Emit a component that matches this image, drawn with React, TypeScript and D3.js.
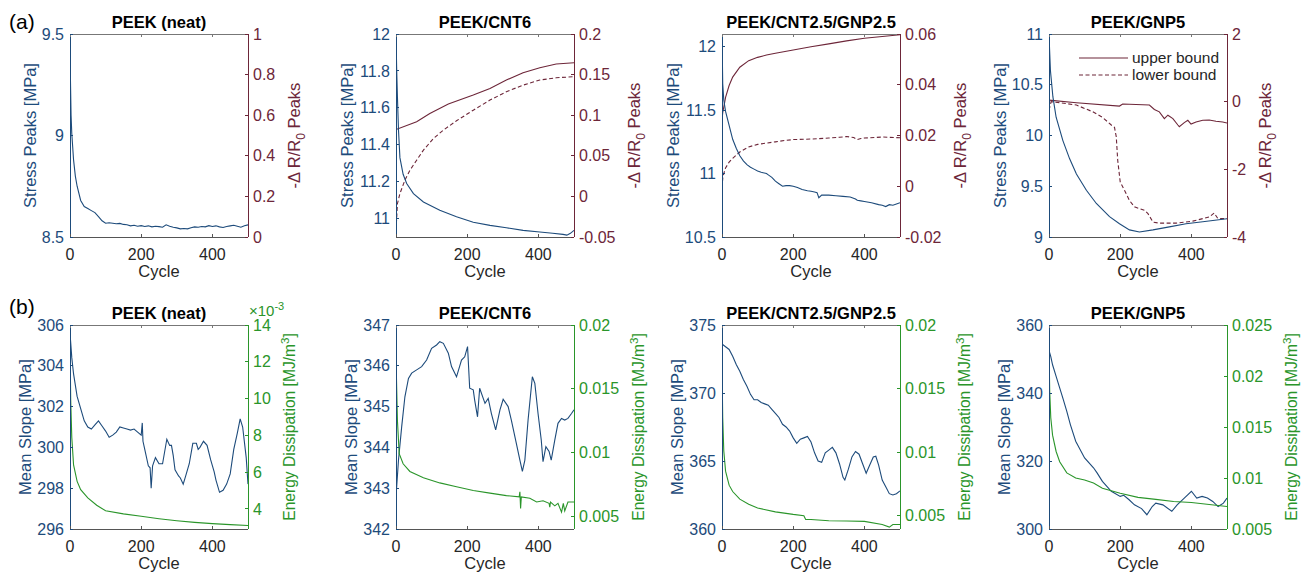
import React from "react";
import * as d3 from "d3";

const FONT = "'Liberation Sans', Arial, Helvetica, sans-serif";
const BLUE = "#1d4b7b";
const MAROON = "#6d2639";
const GREEN = "#2a952a";
const GREY = "#262626";

const cycleTicks = [0, 200, 400];

// ---- row (a): stress peaks + resistance change ----
const neatStress = [[0,9.47],[1,9.3],[3,9.1],[5,9.01],[10,8.88],[15,8.8],[20,8.75],[30,8.68],[40,8.65],[50,8.64],[60,8.63],[70,8.62],[80,8.6],[90,8.58],[100,8.568],[110,8.57],[120,8.568],[130,8.565],[140,8.567],[150,8.562],[160,8.56],[170,8.555],[180,8.558],[190,8.553],[200,8.556],[210,8.552],[220,8.555],[230,8.55],[240,8.553],[250,8.551],[260,8.548],[270,8.56],[280,8.553],[290,8.548],[300,8.545],[310,8.54],[320,8.542],[330,8.54],[340,8.546],[350,8.55],[360,8.548],[370,8.552],[380,8.55],[390,8.556],[400,8.552],[410,8.555],[420,8.55],[430,8.547],[440,8.552],[450,8.555],[460,8.558],[470,8.553],[480,8.548],[490,8.555],[500,8.56]];

const cnt6Stress = [[0,11.99],[2,11.8],[4,11.66],[7,11.48],[11,11.33],[20,11.24],[30,11.19],[49,11.135],[77,11.09],[123,11.045],[170,11.01],[217,10.98],[264,10.963],[310,10.95],[357,10.936],[404,10.927],[440,10.92],[469,10.914],[480,10.91],[490,10.92],[500,10.936]];
const cnt6Upper = [[0,0.0824],[58,0.0919],[95,0.102],[147,0.1137],[217,0.1248],[264,0.133],[310,0.1433],[357,0.1523],[404,0.1585],[450,0.163],[500,0.1646]];
const cnt6Lower = [[0,-0.042],[4,-0.009],[11,0.0035],[25,0.02],[39,0.0322],[58,0.0446],[77,0.057],[105,0.0713],[133,0.0816],[170,0.0931],[217,0.1062],[264,0.1186],[310,0.1289],[357,0.137],[404,0.1433],[450,0.1461],[500,0.1474]];

const hybStress = [[0,12.1],[1,11.9],[2,11.71],[5,11.58],[10,11.49],[20,11.38],[30,11.27],[40,11.2],[50,11.14],[60,11.1],[70,11.07],[80,11.05],[90,11.035],[100,11.02],[110,11.01],[125,11.0],[130,10.99],[140,10.97],[150,10.94],[160,10.92],[170,10.9],[180,10.905],[190,10.905],[200,10.9],[212,10.89],[225,10.875],[240,10.865],[250,10.86],[260,10.855],[267,10.85],[272,10.81],[280,10.83],[290,10.83],[300,10.83],[320,10.825],[340,10.82],[360,10.815],[375,10.8],[380,10.79],[390,10.785],[400,10.78],[420,10.77],[440,10.755],[450,10.75],[460,10.74],[470,10.755],[480,10.75],[490,10.76],[500,10.77]];
const hybUpper = [[0,0.026],[2,0.029],[5,0.0312],[10,0.035],[20,0.0397],[30,0.043],[50,0.0469],[75,0.0495],[100,0.0508],[125,0.0517],[150,0.0524],[200,0.0537],[250,0.055],[300,0.0561],[350,0.0573],[400,0.0583],[450,0.059],[500,0.0597]];
const hybLower = [[0,-0.0007],[2,0.003],[5,0.005],[10,0.0072],[20,0.0095],[30,0.011],[50,0.0135],[75,0.0155],[100,0.0165],[125,0.017],[150,0.0175],[175,0.018],[200,0.0184],[250,0.0186],[300,0.019],[330,0.0193],[350,0.0196],[370,0.0192],[380,0.0184],[390,0.0188],[400,0.019],[450,0.0194],[500,0.0191]];

const gnpStress = [[0,10.99],[4,10.64],[11,10.38],[20,10.18],[39,9.95],[58,9.77],[77,9.62],[105,9.46],[133,9.33],[170,9.2],[198,9.13],[226,9.07],[254,9.05],[292,9.07],[338,9.1],[385,9.13],[432,9.15],[500,9.18]];
const gnpUpper = [[0,0.045],[77,-0.03],[198,-0.13],[207,-0.07],[282,-0.1],[296,-0.23],[310,-0.3],[324,-0.5],[334,-0.4],[348,-0.5],[362,-0.69],[366,-0.74],[380,-0.62],[390,-0.55],[399,-0.66],[413,-0.6],[432,-0.55],[450,-0.54],[469,-0.58],[488,-0.6],[500,-0.63]];
const gnpLower = [[0,-0.25],[6,0.0],[30,-0.03],[77,-0.1],[123,-0.3],[151,-0.47],[175,-0.69],[184,-0.76],[189,-1.04],[193,-1.73],[200,-2.37],[212,-2.62],[226,-2.92],[240,-3.11],[254,-3.16],[268,-3.21],[278,-3.31],[292,-3.56],[310,-3.59],[357,-3.59],[404,-3.53],[450,-3.41],[464,-3.29],[474,-3.45],[500,-3.46]];

// ---- row (b): mean slope + energy dissipation ----
const neatSlope = [[0,305.6],[5,304.4],[10,303.6],[20,302.5],[30,301.9],[40,301.3],[50,301.0],[60,300.9],[70,301.1],[80,301.3],[90,301.05],[100,300.8],[110,300.5],[120,300.6],[130,300.75],[140,301.0],[150,300.95],[160,300.9],[170,300.85],[180,300.9],[190,300.75],[200,300.6],[203,301.2],[205,300.3],[210,299.9],[220,299.1],[225,299.0],[228,298.0],[232,299.1],[240,299.5],[250,299.2],[260,299.2],[265,299.7],[272,300.4],[280,300.1],[285,300.1],[290,299.6],[295,298.9],[305,298.6],[310,298.5],[318,298.2],[325,298.6],[335,299.2],[345,300.2],[355,300.2],[360,299.9],[365,300.0],[375,300.3],[385,300.1],[395,299.4],[405,298.8],[410,298.4],[420,297.8],[430,297.9],[440,298.2],[450,298.7],[460,299.9],[470,300.7],[478,301.4],[485,301.0],[495,299.5],[500,298.2]];
const neatEnergy = [[0,0.0131],[2,0.0099],[5,0.0079],[10,0.0064],[20,0.0055],[30,0.00505],[50,0.0046],[75,0.0042],[100,0.0039],[150,0.00373],[200,0.0036],[250,0.00347],[300,0.00336],[350,0.00327],[400,0.0032],[450,0.00315],[500,0.0031]];

const cnt6Slope = [[0,342.79],[7,343.69],[16,344.51],[25,345.24],[35,345.69],[44,345.82],[58,345.9],[72,345.98],[86,346.14],[100,346.43],[114,346.51],[123,346.59],[133,346.55],[147,346.31],[156,345.98],[170,345.73],[184,346.14],[193,346.22],[201,346.47],[207,345.45],[217,345.41],[221,345.16],[229,344.75],[235,345.45],[250,345.08],[259,345.2],[268,344.83],[280,344.43],[292,344.92],[301,345.18],[315,345.0],[324,344.67],[338,344.1],[348,343.69],[355,343.41],[362,343.69],[371,344.67],[383,345.73],[390,345.57],[399,344.83],[408,344.18],[413,343.65],[421,344.02],[430,343.9],[436,343.69],[446,344.18],[455,344.59],[465,344.71],[474,344.67],[483,344.71],[493,344.83],[500,344.92]];
const cnt6Energy = [[0,0.0174],[4,0.0125],[9,0.0099],[20,0.0091],[39,0.0085],[77,0.008],[123,0.0076],[170,0.0073],[217,0.007],[264,0.0068],[310,0.0066],[346,0.0065],[348,0.0069],[350,0.0056],[352,0.0065],[376,0.0064],[395,0.0061],[413,0.0062],[430,0.006],[432,0.0057],[434,0.0061],[446,0.0058],[455,0.006],[465,0.0053],[470,0.006],[474,0.0054],[483,0.0061],[493,0.0061],[500,0.0061]];

const hybSlope = [[0,373.6],[10,373.4],[20,373.2],[30,372.7],[40,372.1],[50,371.6],[60,371.0],[70,370.5],[80,369.9],[90,369.5],[100,369.5],[110,369.3],[120,369.2],[130,369.1],[140,368.8],[150,368.5],[160,368.2],[170,367.7],[180,367.5],[190,367.2],[200,366.7],[210,366.3],[220,366.6],[230,366.7],[240,366.8],[250,366.4],[260,365.6],[270,365.0],[280,364.9],[290,365.6],[300,365.8],[310,366.0],[320,365.6],[330,364.8],[340,363.8],[345,363.6],[355,364.4],[365,365.3],[375,365.7],[385,365.5],[395,364.8],[405,364.1],[415,364.7],[425,365.3],[432,365.35],[440,364.7],[450,363.6],[460,363.1],[470,362.6],[480,362.5],[490,362.6],[500,362.8]];
const hybEnergy = [[0,0.0169],[2,0.0127],[5,0.0101],[10,0.0085],[20,0.0074],[30,0.0069],[50,0.0063],[75,0.0059],[100,0.0056],[150,0.0053],[200,0.0051],[230,0.005],[235,0.0047],[250,0.0047],[300,0.0046],[350,0.00458],[400,0.00455],[450,0.0043],[470,0.0041],[480,0.0043],[500,0.0043]];

const gnpSlope = [[0,352.5],[5,350.7],[10,348.3],[20,344.9],[30,341.5],[40,338.1],[50,334.6],[60,330.7],[75,325.8],[100,320.9],[125,318.0],[135,316.5],[150,314.0],[175,311.1],[200,309.6],[210,309.9],[225,308.6],[240,307.1],[260,306.0],[275,304.2],[290,306.6],[300,307.6],[320,307.1],[345,305.2],[360,307.1],[380,309.1],[400,311.1],[415,309.1],[430,309.6],[445,309.1],[460,308.1],[475,306.6],[490,307.6],[500,309.1]];
const gnpEnergy = [[0,0.0228],[2,0.0185],[5,0.0159],[10,0.0142],[20,0.0126],[30,0.0116],[50,0.0105],[75,0.01],[100,0.0098],[125,0.0095],[150,0.009],[200,0.0085],[250,0.0081],[300,0.0079],[350,0.0077],[400,0.0076],[450,0.0074],[500,0.0072]];

const titles = ["PEEK (neat)", "PEEK/CNT6", "PEEK/CNT2.5/GNP2.5", "PEEK/GNP5"];

const stressDomains = [[8.5, 9.5], [10.9, 12], [10.5, 12.1], [9, 11]];
const stressTicks = [[8.5, 9, 9.5], [11, 11.2, 11.4, 11.6, 11.8, 12], [10.5, 11, 11.5, 12], [9, 9.5, 10, 10.5, 11]];
const resDomains = [[0, 1], [-0.05, 0.2], [-0.02, 0.06], [-4, 2]];
const resTicks = [[0, 0.2, 0.4, 0.6, 0.8, 1], [-0.05, 0, 0.05, 0.1, 0.15, 0.2], [-0.02, 0, 0.02, 0.04, 0.06], [-4, -2, 0, 2]];

const slopeDomains = [[296, 306], [342, 347], [360, 375], [300, 360]];
const slopeTicks = [[296, 298, 300, 302, 304, 306], [342, 343, 344, 345, 346, 347], [360, 365, 370, 375], [300, 320, 340, 360]];
const energyDomains = [[0.00291, 0.014], [0.00398, 0.02], [0.00395, 0.02], [0.005, 0.025]];
const energyTicks = [[0.004, 0.006, 0.008, 0.01, 0.012, 0.014], [0.005, 0.01, 0.015, 0.02], [0.005, 0.01, 0.015, 0.02], [0.005, 0.01, 0.015, 0.02, 0.025]];

const stressSeries = [neatStress, cnt6Stress, hybStress, gnpStress];
const upperSeries = [null, cnt6Upper, hybUpper, gnpUpper];
const lowerSeries = [null, cnt6Lower, hybLower, gnpLower];
const slopeSeries = [neatSlope, cnt6Slope, hybSlope, gnpSlope];
const energySeries = [neatEnergy, cnt6Energy, hybEnergy, gnpEnergy];

const fmt = (v: number) => String(+v.toFixed(6));

// rough text width of tick labels at 16px
const textW = (s: string) => s.split("").reduce((a, c) => a + (c === "." ? 4.45 : c === "-" ? 5.33 : 8.9), 0);

type Line = { data: number[][] | null; axis: "l" | "r"; color: string; dashed?: boolean };

function Panel({ x0, y0, w, h, idx, title, lDom, lTicks, rDom, rTicks, rFmt, lines, lColor, rColor, lLabel, rLabel, rLabelSize, exponent, legend }: any) {
  const x = d3.scaleLinear().domain([0, 500]).range([x0, x0 + w]);
  const yl = d3.scaleLinear().domain(lDom).range([y0 + h, y0]);
  const yr = d3.scaleLinear().domain(rDom).range([y0 + h, y0]);
  const clipId = `clip-${idx}`;
  const tick = 3;
  const lLabels = lTicks.map(fmt);
  const rLabels = rTicks.map(rFmt);
  const lOff = 7 + Math.max(...lLabels.map(textW)) + 11;
  const rOff = Math.max(...rLabels.map(textW)) + 24;
  const cy = y0 + h / 2;
  return (
    <g>
      <defs>
        <clipPath id={clipId}><rect x={x0} y={y0} width={w} height={h} /></clipPath>
      </defs>
      <g clipPath={`url(#${clipId})`}>
        {lines.filter((l: Line) => l.data).map((l: Line, i: number) => {
          const ys = l.axis === "l" ? yl : yr;
          const gen = d3.line<number[]>().x(d => x(d[0])).y(d => ys(d[1]));
          return <path key={i} d={gen(l.data as number[][]) || ""} fill="none" stroke={l.color} strokeWidth={1.1}
            strokeDasharray={l.dashed ? "4 2.5" : undefined} />;
        })}
      </g>
      {/* box */}
      <g shapeRendering="crispEdges" strokeWidth={1}>
        <line x1={x0} x2={x0 + w} y1={y0} y2={y0} stroke="#777" />
        <line x1={x0} x2={x0 + w} y1={y0 + h} y2={y0 + h} stroke="#555" />
        <line x1={x0} x2={x0} y1={y0} y2={y0 + h} stroke={lColor} />
        <line x1={x0 + w} x2={x0 + w} y1={y0} y2={y0 + h} stroke={rColor} />
        {cycleTicks.map(t => (
          <g key={t}>
            <line x1={x(t)} x2={x(t)} y1={y0 + h} y2={y0 + h - tick} stroke="#555" />
            <line x1={x(t)} x2={x(t)} y1={y0} y2={y0 + tick} stroke="#777" />
          </g>
        ))}
        {lTicks.map((t: number) => <line key={t} x1={x0} x2={x0 + tick} y1={yl(t)} y2={yl(t)} stroke={lColor} />)}
        {rTicks.map((t: number) => <line key={t} x1={x0 + w} x2={x0 + w - tick} y1={yr(t)} y2={yr(t)} stroke={rColor} />)}
      </g>
      <g fontFamily={FONT} fontSize={16}>
        {cycleTicks.map(t => <text key={t} x={x(t)} y={y0 + h + 23} textAnchor="middle" fill={GREY}>{t}</text>)}
        {lTicks.map((t: number, i: number) => <text key={t} x={x0 - 6} y={yl(t)} dy="0.35em" textAnchor="end" fill={lColor}>{lLabels[i]}</text>)}
        {rTicks.map((t: number, i: number) => <text key={t} x={x0 + w + 5} y={yr(t)} dy="0.35em" textAnchor="start" fill={rColor}>{rLabels[i]}</text>)}
      </g>
      <g fontFamily={FONT} fontSize={16.5}>
        <text x={x0 + w / 2} y={y0 + h + 40} textAnchor="middle" fill={GREY}>Cycle</text>
        <text x={x0 + w / 2} y={y0 - 6} textAnchor="middle" fill="#000" fontWeight="bold">{title}</text>
        <text transform={`translate(${x0 - lOff},${cy}) rotate(-90)`} dy="0.35em" textAnchor="middle" fill={lColor}>{lLabel}</text>
        <text transform={`translate(${x0 + w + rOff},${cy}) rotate(-90)`} dy="0.35em" textAnchor="middle" fill={rColor}
          fontSize={rLabelSize}>{rLabel}</text>
      </g>
      {exponent && (
        <text x={x0 + w + 1} y={y0 - 9} fontFamily={FONT} fontSize={15} fill={rColor}>
          ×10<tspan dy={-6} fontSize={11}>-3</tspan>
        </text>
      )}
      {legend && (
        <g fontFamily={FONT} fontSize={15.5}>
          <line x1={x0 + 30} x2={x0 + 79} y1={y0 + 24} y2={y0 + 24} stroke={rColor} strokeWidth={1.1} />
          <text x={x0 + 83} y={y0 + 24} dy="0.35em" fill={GREY}>upper bound</text>
          <line x1={x0 + 30} x2={x0 + 79} y1={y0 + 41} y2={y0 + 41} stroke={rColor} strokeWidth={1.1} strokeDasharray="4 2.5" />
          <text x={x0 + 83} y={y0 + 41} dy="0.35em" fill={GREY}>lower bound</text>
        </g>
      )}
    </g>
  );
}

const resLabel = (
  <>-Δ R/R<tspan dy={5} fontSize={12}>0</tspan><tspan dy={-5}> Peaks</tspan></>
);
const energyLabel = (
  <>Energy Dissipation [MJ/m<tspan dy={-6} fontSize={11.5}>3</tspan><tspan dy={6}>]</tspan></>
);

export default function App() {
  const lefts = [70, 396, 722, 1049];
  const w = 178;
  return (
    <div style={{ position: "absolute", left: 0, top: 0 }}>
      <svg width={1301} height={576} style={{ display: "block", background: "#fff" }}>
        <text x={9} y={29} fontFamily={FONT} fontSize={21} fill="#000">(a)</text>
        <text x={9} y={314} fontFamily={FONT} fontSize={21} fill="#000">(b)</text>
        {lefts.map((x0, i) => (
          <Panel key={`a${i}`} idx={`a${i}`} x0={x0} y0={34} w={w} h={203} title={titles[i]}
            lDom={stressDomains[i]} lTicks={stressTicks[i]} rDom={resDomains[i]} rTicks={resTicks[i]} rFmt={fmt}
            lColor={BLUE} rColor={MAROON} lLabel="Stress Peaks [MPa]" rLabel={resLabel} rLabelSize={16.5} legend={i === 3}
            lines={[
              { data: upperSeries[i], axis: "r", color: MAROON },
              { data: lowerSeries[i], axis: "r", color: MAROON, dashed: true },
              { data: stressSeries[i], axis: "l", color: BLUE },
            ]} />
        ))}
        {lefts.map((x0, i) => (
          <Panel key={`b${i}`} idx={`b${i}`} x0={x0} y0={325} w={w} h={204} title={titles[i]}
            lDom={slopeDomains[i]} lTicks={slopeTicks[i]} rDom={energyDomains[i]} rTicks={energyTicks[i]}
            rFmt={i === 0 ? (v: number) => fmt(v * 1000) : fmt}
            lColor={BLUE} rColor={GREEN} lLabel="Mean Slope [MPa]" rLabel={energyLabel} rLabelSize={15.6} exponent={i === 0}
            lines={[
              { data: slopeSeries[i], axis: "l", color: BLUE },
              { data: energySeries[i], axis: "r", color: GREEN },
            ]} />
        ))}
      </svg>
    </div>
  );
}
